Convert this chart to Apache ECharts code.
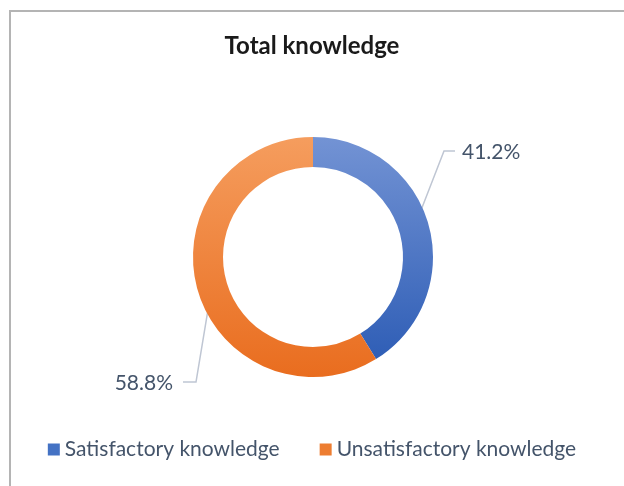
<!DOCTYPE html>
<html>
<head>
<meta charset="utf-8">
<script src="https://cdn.jsdelivr.net/npm/echarts@6/dist/echarts.min.js"></script>
<style>
    html, body { margin: 0; padding: 0; background: #fff; }
    #frame {
        position: absolute; left: 9px; top: 10px; width: 640px; height: 500px;
        border-left: 2px solid #b4b4b4; border-top: 2px solid #b4b4b4;
    }
    #chart { position: absolute; left: 0; top: 0; width: 624px; height: 486px; }
</style>
</head>
<body>
<div id="frame"></div>
<div id="chart"></div>
<script>
let categories = ['Satisfactory knowledge', 'Unsatisfactory knowledge'];
let values = [41.2, 58.8];
let labelPos = [[462, 152], [173, 383]];
let colors = [
    ['#7393d4', '#2f5eb6'],
    ['#f59d5e', '#e96d1f']
];

let center = [313, 257];
let radius = [90, 120];

let myChart = echarts.init(document.getElementById('chart'));
let font = 'Lato, "Open Sans", sans-serif';

let data = [];
for (let i = 0; i < categories.length; i++) {
    data.push({
        name: categories[i],
        value: values[i],
        itemStyle: {
            color: new echarts.graphic.LinearGradient(0, 0, 0, 1, [
                { offset: 0, color: colors[i][0] },
                { offset: 1, color: colors[i][1] }
            ])
        }
    });
}

let option = {
    backgroundColor: 'transparent',
    animation: false,
    title: {
        text: 'Total knowledge',
        left: 'center',
        top: 29,
        textStyle: { fontFamily: font, fontSize: 24, fontWeight: 'bold', color: '#1a1a1a' }
    },
    legend: {
        bottom: 21,
        left: 'center',
        itemWidth: 12,
        itemHeight: 12,
        itemGap: 40,
        icon: 'rect',
        textStyle: { fontFamily: font, fontSize: 21, color: '#44546a' },
        data: [
            { name: categories[0], itemStyle: { color: '#4472c4' } },
            { name: categories[1], itemStyle: { color: '#ed7d31' } }
        ]
    },
    series: [{
        type: 'pie',
        center: center,
        radius: radius,
        startAngle: 90,
        clockwise: true,
        data: data,
        label: {
            show: true,
            formatter: function (p) { return p.value.toFixed(1) + '%'; },
            fontFamily: font,
            fontSize: 21,
            color: '#44546a'
        },
        labelLine: {
            show: true,
            length: 50,
            length2: 12,
            lineStyle: { color: '#bfc6d3', width: 1.5 }
        },
        labelLayout: function (params) {
            let i = params.dataIndex;
            let p = labelPos[i];
            let right = i === 0;
            // start the leader line in the middle of the ring
            let a = params.labelLinePoints[0];
            let k = (radius[0] + radius[1]) / 2 / radius[1];
            let start = [center[0] + (a[0] - center[0]) * k, center[1] + (a[1] - center[1]) * k];
            let end = right ? [p[0] - 7, p[1] - 1] : [p[0] + 10, p[1] - 1];
            let mid = right ? [end[0] - 11, end[1]] : [end[0] + 13, end[1]];
            return {
                x: p[0],
                y: p[1],
                align: right ? 'left' : 'right',
                verticalAlign: 'middle',
                labelLinePoints: [start, mid, end]
            };
        }
    }]
};
myChart.setOption(option);
</script>
</body>
</html>
